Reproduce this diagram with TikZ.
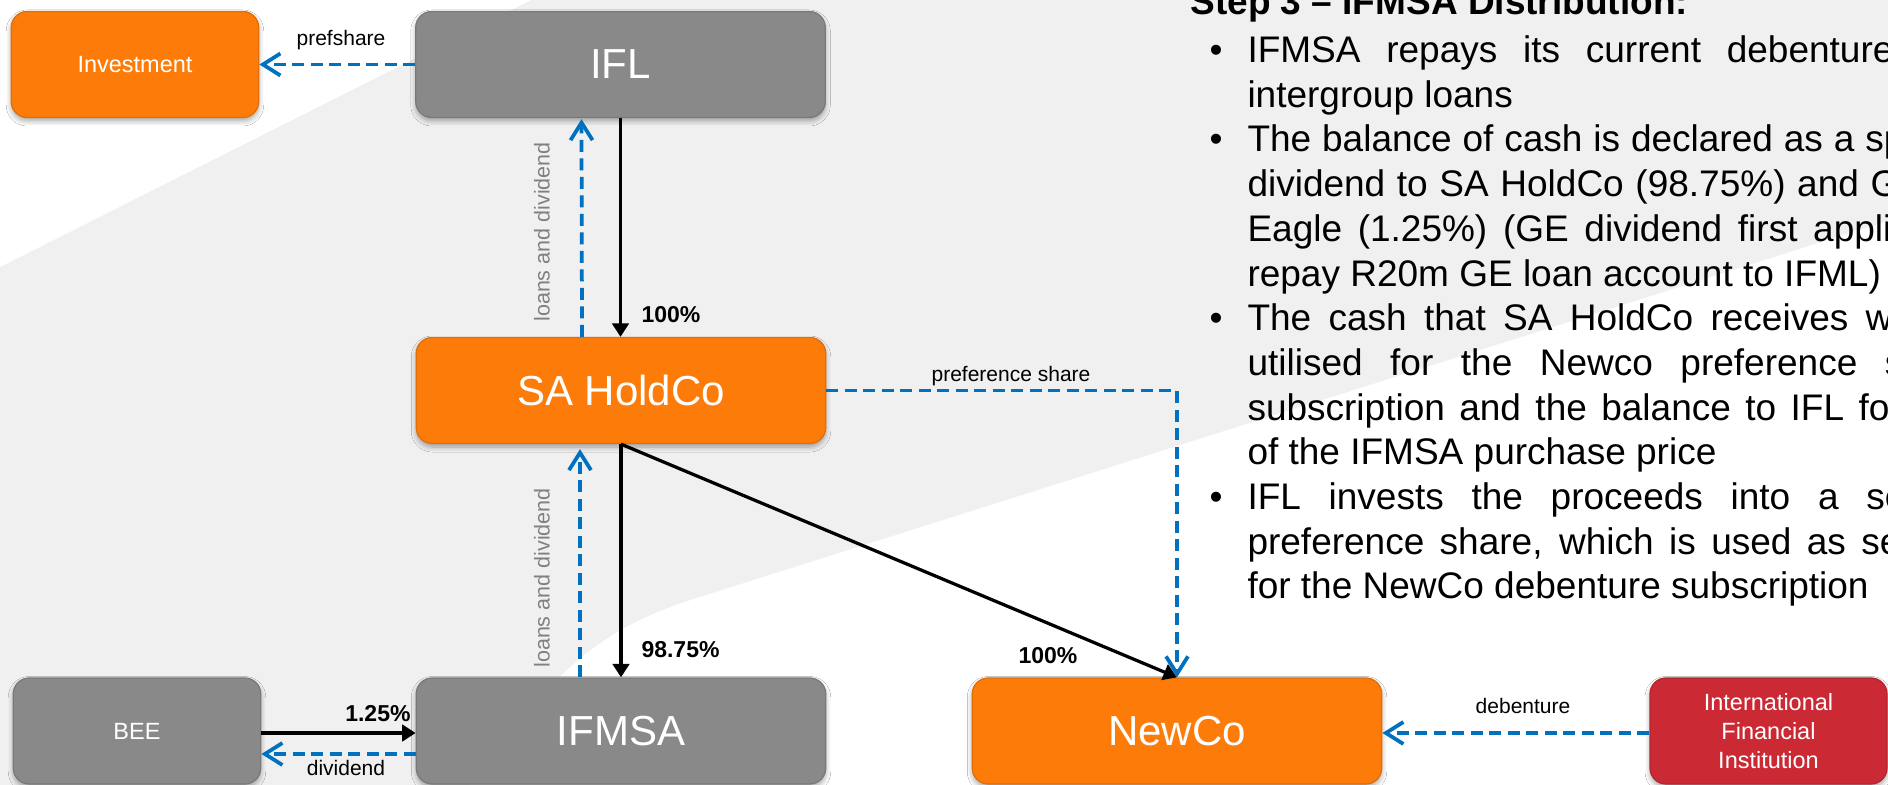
\documentclass[tikz,border=0pt]{standalone}
\usepackage{fontspec}
\setmainfont{Liberation Sans}
\usetikzlibrary{arrows.meta,calc,shadows.blur}

% one drawing unit = one pixel of the 1888 x 785 canvas
\newdimen\pxu \pxu=0.4pt

\definecolor{orangebox}{RGB}{253,124,9}
\definecolor{graybox}{RGB}{137,137,137}
\definecolor{redbox}{RGB}{203,42,53}
\definecolor{flowblue}{RGB}{0,112,192}
\definecolor{bgband}{RGB}{240,240,240}
\definecolor{labelgray}{RGB}{128,128,128}

\tikzset{
  entity/.style={rounded corners=6.4pt, inner sep=0pt, text=white, align=center,
    minimum height=42.4pt, line width=0.5pt,
    blur shadow={shadow xshift=0pt, shadow yshift=-1.4pt, shadow opacity=35,
                 shadow blur radius=2pt, shadow blur steps=6}},
  orangefill/.style={fill=orangebox, draw=orangebox!88!black},
  grayfill/.style={fill=graybox, draw=graybox!88!black},
  redfill/.style={fill=redbox, draw=redbox!88!black},
  bigbox/.style={entity, minimum width=163.8pt,
    font=\fontsize{16.8pt}{20pt}\selectfont},
  smallbox/.style={entity, minimum width=99pt,
    font=\fontsize{9.4pt}{11.4pt}\selectfont},
  own/.style={draw=black, line width=1.3pt,
    -{Triangle[length=5.4pt,width=6.6pt]}},
  flow/.style={draw=flowblue, line width=1.5pt, dash pattern=on 4.8pt off 2.6pt,
    -{Straight Barb[length=7pt,width=8.8pt,line width=1.5pt]}},
  flowlabel/.style={inner sep=0pt, font=\fontsize{8.4pt}{10pt}\selectfont},
  looplabel/.style={inner sep=0pt, text=labelgray, rotate=90,
    font=\fontsize{8.6pt}{10pt}\selectfont},
  pct/.style={inner sep=0pt, font=\bfseries\fontsize{9.2pt}{11pt}\selectfont},
  body/.style={inner sep=0pt, anchor=base west,
    font=\fontsize{14.8pt}{17.8pt}\selectfont},
  bulletmark/.style={inner sep=0pt, anchor=base,
    font=\fontsize{14.8pt}{17.8pt}\selectfont},
}

\begin{document}
\begin{tikzpicture}[x=0.4pt, y=-0.4pt]
  \useasboundingbox (0,0) rectangle (1888,785);
  \clip (0,0) rectangle (1888,785);

  % backdrop: light band with white corners
  \fill[bgband] (0,0) rectangle (1888,785);
  \fill[white] (0,0) -- (531,0) -- (0,267) -- cycle;
  \fill[white] (470,785) .. controls (560,660) and (610,625) .. (700,597)
               -- (1888,221) -- (1888,785) -- cycle;

  % entities
  \node[smallbox, orangefill] (inv)   at (135,64.5)   {Investment};
  \node[bigbox,   grayfill]   (ifl)   at (620.5,64.5) {IFL};
  \node[bigbox,   orangefill] (sah)   at (621,390.5)  {SA HoldCo};
  \node[smallbox, grayfill]   (bee)   at (137,731)    {BEE};
  \node[bigbox,   grayfill]   (ifmsa) at (621,731)    {IFMSA};
  \node[bigbox,   orangefill] (newco) at (1177,731)   {NewCo};
  \node[entity, minimum width=94.8pt, redfill,
        font=\fontsize{9.4pt}{11.6pt}\selectfont]
        (ifi) at (1768.5,731) {International\\Financial\\Institution};

  % shareholdings
  \draw[own] (ifl.south) -- (ifl.south |- sah.north);
  \draw[own] (sah.south) -- (sah.south |- ifmsa.north);
  \draw[own] (sah.south) -- (newco.north);
  \draw[own] ($(bee.east)+(0,2)$) -- ($(ifmsa.west)+(0,2)$);

  % cash flows
  \draw[flow] (ifl.west) -- (inv.east);
  \draw[flow] ($(sah.north)+(-39,0)$) -- ($(ifl.south)+(-39,1)$);
  \draw[flow] ($(ifmsa.north)+(-41,0)$) -- ($(sah.south)+(-41,5)$);
  \draw[flow] (sah.east) -| (newco.north);
  \draw[flow] ($(ifmsa.west)+(0,23)$) -- ($(bee.east)+(0,23)$);
  \draw[flow] ($(ifi.west)+(0,2)$) -- ($(newco.east)+(0,2)$);

  % connector labels
  \node[flowlabel] (lpref)  at (341,40)   {prefshare};
  \node[flowlabel] (lprefs) at (1011,376) {preference share};
  \node[flowlabel] (ldiv)   at (346,768)  {dividend};
  \node[flowlabel] (ldeb)   at (1523,706) {debenture};
  \node[looplabel] (lloan1) at (542,232)  {loans and dividend};
  \node[looplabel] (lloan2) at (542,578)  {loans and dividend};

  \node[pct, anchor=west] (p1) at (641,315)  {100\%};
  \node[pct, anchor=west] (p2) at (641,650)  {98.75\%};
  \node[pct, anchor=east] (p3) at (411,714)  {1.25\%};
  \node[pct]              (p4) at (1048,656) {100\%};

  % step description
  \node[body, font=\bfseries\fontsize{14.8pt}{17.8pt}\selectfont]
       (title) at (1190,15) {Step 3 – IFMSA Distribution:};

  \node[bulletmark] (b1) at (1216,63)    {•};
  \node[bulletmark] (b2) at (1216,152)   {•};
  \node[bulletmark] (b3) at (1216,330.8) {•};
  \node[bulletmark] (b4) at (1216,509.6) {•};

  \node[body] (t1)  at (1247,63)    {\makebox[646\pxu][s]{IFMSA repays its current debenture}};
  \node[body] (t2)  at (1247,107.7) {intergroup loans};
  \node[body] (t3)  at (1247,152)   {\makebox[657\pxu][s]{The balance of cash is declared as a sp}};
  \node[body] (t4)  at (1247,196.7) {\makebox[652\pxu][s]{dividend to SA HoldCo (98.75\%) and G}};
  \node[body] (t5)  at (1247,241.4) {\makebox[644\pxu][s]{Eagle (1.25\%) (GE dividend first appli}};
  \node[body] (t6)  at (1247,286.1) {repay R20m GE loan account to IFML)};
  \node[body] (t7)  at (1247,330.8) {\makebox[645\pxu][s]{The cash that SA HoldCo receives w}};
  \node[body] (t8)  at (1247,375.5) {\makebox[656\pxu][s]{utilised for the Newco preference s}};
  \node[body] (t9)  at (1247,420.2) {\makebox[642\pxu][s]{subscription and the balance to IFL fo}};
  \node[body] (t10) at (1247,464.9) {of the IFMSA purchase price};
  \node[body] (t11) at (1247,509.6) {\makebox[658\pxu][s]{IFL invests the proceeds into a se}};
  \node[body] (t12) at (1247,554.3) {\makebox[653\pxu][s]{preference share, which is used as se}};
  \node[body] (t13) at (1247,599)   {for the NewCo debenture subscription};
\end{tikzpicture}
\end{document}
